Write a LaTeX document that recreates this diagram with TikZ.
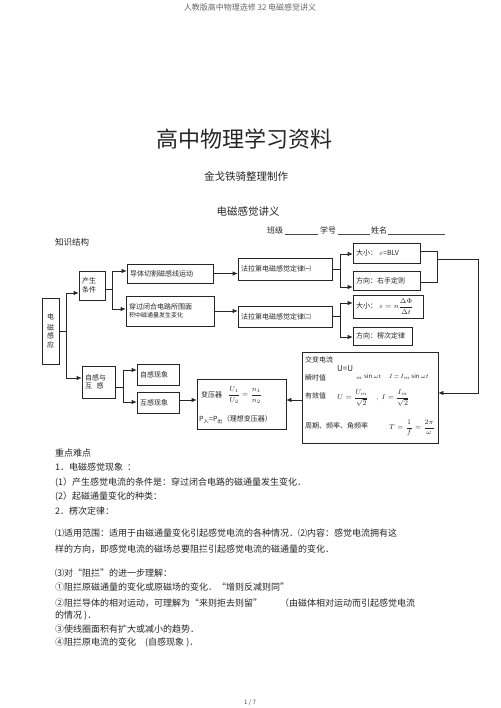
\documentclass[tikz,border=0pt]{standalone}
\usepackage{fontspec}
\setmainfont{Noto Sans CJK SC}
\usetikzlibrary{arrows.meta}
\begin{document}
\begin{tikzpicture}[x=1pt,y=-1pt,
 box/.style={draw=black!85,line width=0.7pt,inner xsep=3pt,inner ysep=0pt,align=left,font=\fontsize{7}{8.5}\selectfont,text=black!85},
 arr/.style={-{Latex[length=5pt,width=4.5pt]},line width=0.7pt,draw=black!85},
 ln/.style={line width=0.7pt,draw=black!85},
 txt/.style={anchor=west,inner sep=0pt,text=black!85,font=\fontsize{9}{10}\selectfont},
 small/.style={anchor=west,inner sep=0pt,text=black!85,font=\fontsize{7}{8}\selectfont},
]
\useasboundingbox[fill=white] (0,0) rectangle (500,708);

% header
\node[inner sep=0pt,text=black!60,font=\fontsize{8}{9}\selectfont] (hdr) at (250,7) {人教版高中物理选修 32 电磁感觉讲义};
\node[inner sep=0pt,text=black!85,font=\fontsize{22}{24}\selectfont] (title) at (244,139) {高中物理学习资料};
\node[inner sep=0pt,text=black!85,font=\fontsize{10.5}{12}\selectfont] (sub) at (246,176) {金戈铁骑整理制作};
\node[inner sep=0pt,text=black!85,font=\fontsize{10.5}{12}\selectfont] (ttl2) at (248,212) {电磁感觉讲义};
\node[small,font=\fontsize{8}{9}\selectfont] (bj) at (267,230) {班级};
\node[small,font=\fontsize{8}{9}\selectfont] (xh) at (320,230) {学号};
\node[small,font=\fontsize{8}{9}\selectfont] (xm) at (371,230) {姓名};
\draw[line width=0.5pt,black!70] (285,234.5) -- (318,234.5) (338,234.5) -- (370,234.5) (388,234.5) -- (445,234.5);
\node[txt,font=\fontsize{8.5}{10}\selectfont] (zsjg) at (55,242) {知识结构};

% boxes
\node[box,text width=11pt,minimum height=66pt,align=center] (dc) at (50.5,331) {电\\[2pt]磁\\感\\应};
\node[box,text width=20pt,minimum height=29pt] (cs) at (92,285.5) {产生\\条件};
\node[box,text width=80pt,minimum height=19pt] (dt) at (170,273.5) {导体切割磁感线运动};
\node[box,text width=82pt,minimum height=30pt] (cg) at (170,311) {穿过闭合电路所围面\\[-1pt]{\fontsize{6}{7}\selectfont 积中磁通量发生变化}};
\node[box,text width=88pt,minimum height=22pt] (f1) at (285,269) {法拉第电磁感觉定律㈠};
\node[box,text width=88pt,minimum height=21pt] (f2) at (285,316.5) {法拉第电磁感觉定律㈡};
\node[box,text width=61pt,minimum height=20pt] (d1) at (386.5,253) {大小：\ $\varepsilon$=BLV};
\node[box,text width=61pt,minimum height=19pt] (r1) at (386.5,280.5) {方向：右手定则};
\node[box,text width=64pt,minimum height=23pt] (d2) at (388,306.5) {大小：\ $\varepsilon=n\displaystyle\frac{\Delta\Phi}{\Delta t}$};
\node[box,text width=53pt,minimum height=18pt] (r2) at (382.5,336) {方向：楞次定律};
\node[box,text width=27pt,minimum height=32pt] (zh) at (98.5,382) {自感与\\互\ \ 感};
\node[box,text width=36pt,minimum height=21pt] (zx) at (158,374.5) {自感现象};
\node[box,text width=36pt,minimum height=21pt] (hx) at (158,402.5) {互感现象};
\node[box,minimum width=89pt,minimum height=50pt] (by) at (241.5,404) {};
\node[box,minimum width=136pt,minimum height=91pt] (ac) at (370,397.5) {};

% transformer content
\node[small] (byt) at (201,395) {变压器};
\node[small,font=\fontsize{7}{8}\selectfont] (byf) at (228,395) {$\displaystyle\frac{U_1}{U_2}=\frac{n_1}{n_2}$};
\node[small] (byp) at (199,420) {P\textsubscript{入}=P\textsubscript{出}（理想变压器）};

% AC content
\node[small] (ac1) at (305,360) {交变电流};
\node[small] (ac2) at (305,378) {瞬时值};
\node[small] (ac3) at (305,396) {有效值};
\node[small] (ac4) at (305,426) {周期、频率、角频率};
\node[small,font=\fontsize{8}{9}\selectfont] (u1) at (337,369) {U=U};
\node[small,font=\fontsize{6}{7}\selectfont] (u2) at (356,377) {$_m\sin\omega t$};
\node[small,font=\fontsize{6}{7}\selectfont] (i1) at (389,377) {$I\!=\!I_m\sin\omega t$};
\node[small,font=\fontsize{7}{8}\selectfont] (ue) at (337,398) {$\displaystyle U=\frac{U_m}{\sqrt{2}}$};
\node[small,font=\fontsize{7}{8}\selectfont] (ie) at (376,398) {$\displaystyle ,\ I=\frac{I_m}{\sqrt{2}}$};
\node[small,font=\fontsize{7.5}{8}\selectfont] (tt) at (389,428) {$\displaystyle T=\frac{1}{f}=\frac{2\pi}{\omega}$};

% connectors
\coordinate (j0) at (66,293);
\coordinate (j1) at (66,378);
\draw[ln] (dc.east) -- (dc.east -| j0);
\draw[ln] (j0) -- (j1);
\draw[arr] (j0) -- (j0 -| cs.west);
\draw[arr] (j1) -- (j1 -| zh.west);

\coordinate (j2) at (112,271);
\coordinate (j3) at (112,309);
\draw[ln] (cs.east |- 0,289) -- (112,289);
\draw[ln] (j2) -- (j3);
\draw[arr] (j2) -- (j2 -| dt.west);
\draw[arr] (j3) -- (j3 -| cg.west);

\draw[arr] (dt.east) -- (dt.east -| f1.west);
\draw[arr] (cg.east) -- (cg.east -| f2.west);

\coordinate (j4) at (340,254);
\coordinate (j5) at (340,287);
\draw[ln] (f1.east) -- (f1.east -| j4);
\draw[ln] (j4) -- (j5);
\draw[arr] (j4) -- (j4 -| d1.west);
\draw[arr] (j5) -- (j5 -| r1.west);

\coordinate (j6) at (340,303);
\coordinate (j7) at (340,337);
\draw[ln] (f2.east) -- (f2.east -| j6);
\draw[ln] (j6) -- (j7);
\draw[arr] (j6) -- (j6 -| d2.west);
\draw[arr] (j7) -- (j7 -| r2.west);

\coordinate (k1) at (437,251);
\coordinate (k2) at (437,282);
\coordinate (k3) at (437,259);
\coordinate (k4) at (478,393);
\draw[ln] (k1 -| d1.east) -- (k1) -- (k2) -- (k2 -| r1.east);
\draw[arr] (k3) -| (k4) -- (k4 -| ac.east);

\coordinate (m0) at (0,400);
\draw[arr] (m0 -| ac.west) -- (m0 -| by.east);

\coordinate (j8) at (123,370);
\coordinate (j9) at (123,402);
\draw[ln] (zh.east |- 0,387) -- (123,387);
\draw[ln] (j8) -- (j9);
\draw[arr] (j8) -- (j8 -| zx.west);
\draw[arr] (j9) -- (j9 -| hx.west);
\draw[arr] (hx.east |- m0) -- (m0 -| by.west);

% text section
\node[txt] (l0) at (55,453) {重点难点};
\node[txt] (l1) at (55,467) {1．电磁感觉现象\ \ ：};
\node[txt] (l2) at (55,483) {(1）产生感觉电流的条件是：穿过闭合电路的磁通量发生变化．};
\node[txt] (l3) at (55,497) {(2）起磁通量变化的种类：};
\node[txt] (l4) at (55,511) {2．楞次定律：};
\node[txt] (l5) at (55,533) {⑴适用范围：适用于由磁通量变化引起感觉电流的各种情况．⑵内容：感觉电流拥有这};
\node[txt] (l6) at (55,549) {样的方向，即感觉电流的磁场总要阻拦引起感觉电流的磁通量的变化．};
\node[txt] (l7) at (55,573) {⑶对“阻拦”的进一步理解：};
\node[txt] (l8) at (55,587) {①阻拦原磁通量的变化或原磁场的变化．“增则反减则同”};
\node[txt] (l9) at (55,603) {②阻拦导体的相对运动，可理解为“来则拒去则留”\quad\quad（由磁体相对运动而引起感觉电流};
\node[txt] (l10) at (55,616) {的情况 )．};
\node[txt] (l11) at (55,629) {③使线圈面积有扩大或减小的趋势．};
\node[txt] (l12) at (55,643) {④阻拦原电流的变化\quad (自感现象 )．};

\node[inner sep=0pt,text=black!70,font=\fontsize{6}{7}\selectfont] (pg) at (250,703) {1 / 7};
\end{tikzpicture}
\end{document}
